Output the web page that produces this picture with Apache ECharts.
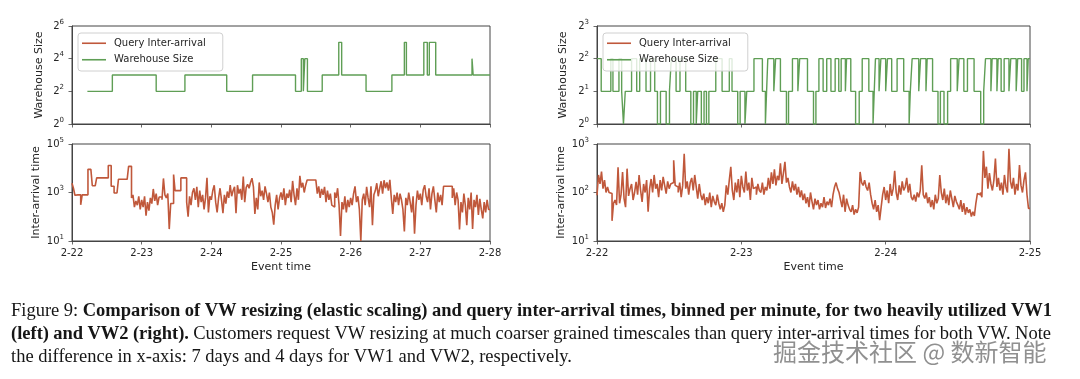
<!DOCTYPE html>
<html><head><meta charset="utf-8">
<script src="https://cdn.jsdelivr.net/npm/echarts@6/dist/echarts.min.js"></script>
<style>html,body{margin:0;padding:0;background:#fff}#c{width:1080px;height:379px}</style>
</head><body><div id="c"></div>
<script>
// ---------- data ----------
const vw1DayLabels = ['2-22','2-23','2-24','2-25','2-26','2-27','2-28'];
const vw2DayLabels = ['2-22','2-23','2-24','2-25'];
const vw1SpanHours = 144;
const vw2SpanHours = 72;
const legendNames = ['Query Inter-arrival', 'Warehouse Size'];

const vw1SizeTicks = [1, 4, 16, 64];
const vw1IatTicks = [10, 1000, 100000];
const vw2SizeTicks = [1, 2, 4, 8];
const vw2IatTicks = [10, 100, 1000];

// warehouse size change points (hours since 2-22 00:00) and new size
const vw1SizeHours = [5.3,13.9,29.0,38.9,53.3,62.2,77.0,79.0,79.7,80.2,81.1,86.2,91.9,92.9,101.3,110.2,114.5,115.2,121.2,122.4,123.1,125.3,137.8,138.2];
const vw1SizeValues = [4,8,4,8,4,8,4,16,4,16,4,8,32,8,4,8,32,8,32,8,32,8,16,8];

const vw2SizeHours = [0,0.7,2.3,2.65,3.65,4.1,4.4,4.7,5.75,6.6,
  7.1,8.15,8.9,9.6,10.05,10.55,11.5,12.05,12.35,13.15,
  13.8,14.75,15.6,16.05,16.5,16.75,17.35,17.8,18.2,18.6,
  19.75,20.8,22.0,22.45,23.4,23.8,24.6,24.9,26.1,27.5,
  28.0,28.2,28.4,29.4,29.7,30.5,31.5,31.85,32.5,33.4,
  33.7,35.0,36.0,36.4,36.9,37.6,38.2,38.9,39.6,40.2,
  40.6,41.3,41.5,42.2,43.0,43.6,44.1,45.2,45.9,46.1,
  46.3,46.9,47.2,48.0,48.3,49.0,49.9,51.0,51.9,52.1,
  52.4,53.5,53.8,54.7,54.9,55.8,56.7,57.1,57.7,58.3,
  58.8,59.9,60.2,61.0,61.6,62.7,63.8,64.3,64.6,65.5,
  65.7,66.5,66.7,67.2,67.7,68.5,68.8,69.7,69.95,70.6,
  71.0,71.5,71.7];
const vw2SizeValues = [4,2,4,2,4,2,1,2,4,2,
  4,2,4,2,1,2,1,2,4,2,
  4,2,1,2,1,2,1,2,1,2,
  4,2,4,2,1,2,1,2,4,2,
  1,2,4,2,4,2,1,2,4,2,
  4,2,1,2,4,2,4,2,4,2,
  4,2,4,2,1,2,4,2,1,2,
  4,2,4,2,4,2,4,2,1,2,
  4,2,4,2,4,2,1,2,1,2,
  4,2,4,2,4,2,1,2,4,2,
  4,2,4,2,4,2,4,2,4,2,
  4,2,4];

// query inter-arrival time per bin (VW1: 6 days, VW2: 3 days, equal-width bins)
const vw1InterArrival = [
  2400,1500,770,800,800,800,310,800,800,800,800,9000,9000,9000,1900,1900,1900,4000,4000,4000,4000,4000,4000,4000,4000,13000,13000,1800,1800,950,950,950,3500,3500,3500,3500,3500,3500,3500,12000,12000,600,800,250,450,300,700,200,
  500,250,700,110,400,180,600,350,1400,450,900,300,650,650,500,3800,800,600,900,31,350,350,5500,1200,1200,1300,1200,4000,4000,4000,4000,400,100,700,300,1000,1500,500,1700,250,1200,400,800,200,600,4000,150,700,
  500,1200,2000,400,150,600,1500,500,140,800,350,1100,600,2000,700,1200,1700,140,2000,900,1400,500,4500,400,1600,2200,1500,2600,3900,1700,130,600,200,2600,700,1200,500,1800,900,400,1000,250,150,47,300,800,200,600,
  1000,500,1500,300,900,600,1300,400,3000,800,300,1500,500,4900,1600,2500,1000,2000,3300,3300,3300,3300,3300,3300,3300,900,1800,600,1400,800,1700,400,1200,500,900,300,250,1000,600,1500,300,16,400,200,700,150,500,250,
  600,300,900,1800,400,700,200,10,500,900,300,1700,600,250,1800,45,800,1200,2400,700,1500,2900,900,3200,1500,2600,1200,3300,600,130,800,400,1000,300,900,500,200,25,600,300,1000,400,150,700,20,300,1200,500,
  900,300,1300,2000,700,400,1500,200,900,1800,500,150,1000,400,800,300,1800,1800,1800,1800,1800,1800,600,1500,300,1000,500,30,400,150,900,300,45,600,200,1000,31,500,250,800,120,550,200,85,400,150,500,200
];
const vw2InterArrival = [
  88,230,150,270,120,180,100,130,100,95,26,60,70,55,330,60,90,265,75,50,310,85,
  120,150,70,100,165,90,230,110,64,150,100,180,40,120,
  190,100,230,120,150,80,180,110,210,140,95,170,120,150,160,460,140,130,100,160,80,140,630,
  120,170,90,160,200,110,230,130,75,150,90,70,95,55,80,60,100,50,85,65,55,90,60,45,60,40,55,
  140,90,180,340,110,70,160,100,190,80,220,130,100,270,110,160,70,200,120,
  130,90,150,110,100,160,90,130,110,200,120,260,150,300,140,220,180,400,150,250,430,160,200,
  130,100,170,110,150,90,130,80,110,70,95,60,80,50,100,65,45,75,
  55,70,45,60,50,80,48,65,55,75,50,90,130,160,120,100,70,50,90,40,75,55,45,
  40,55,35,45,38,50,265,160,140,180,130,110,160,90,60,45,70,40,55,27,50,
  90,130,70,110,60,150,85,120,280,100,70,140,90,170,110,130,200,100,150,80,
  70,90,65,100,80,110,365,90,75,100,60,80,50,70,45,90,60,75,230,
  100,70,120,60,90,55,110,75,50,85,65,55,45,70,40,60,35,50,38,45,32,40,33,60,
  95,90,100,80,720,200,340,120,250,150,110,180,500,130,
  200,110,160,90,230,130,100,800,170,120,200,90,150,110,370,140,100,180,260,90,47
];

// caption text: [text, bold]
const captionLine1 = [['Figure 9:', false], ['Comparison of VW resizing (elastic scaling) and query inter-arrival times, binned per minute, for two heavily utilized VW1', true]];
const captionLine2 = [['(left) and VW2 (right).', true], ['Customers request VW resizing at much coarser grained timescales than query inter-arrival times for both VW. Note', false]];
const captionLine3 = [['the difference in x-axis: 7 days and 4 days for VW1 and VW2, respectively.', false]];
const watermarkText = '掘金技术社区 @ 数新智能';

// ---------- helpers ----------
const GREEN = '#5f9e55', RED = '#c0583b', FRAME = '#444', TXT = '#262626';
const FONT = '"DejaVu Sans", sans-serif';

function stepData(hours, values, span) {
  const d = hours.map((h, i) => [h, values[i]]);
  d.push([span, values[values.length - 1]]);
  return d;
}
function binData(values, span) {
  const w = span / values.length;
  const d = values.map((v, i) => [i * w, v]);
  d.push([span, values[values.length - 1]]);
  return d;
}
function supLabel(base) {
  return v => '{b|' + base + '}{s|' + Math.round(Math.log(v) / Math.log(base)) + '}';
}
const richSup = {
  b: { fontSize: 10, lineHeight: 15, fontFamily: FONT, color: TXT },
  s: { fontSize: 7, fontFamily: FONT, color: TXT, verticalAlign: 'top' }
};
function xAx(gi, span, labels, showLabels) {
  return {
    type: 'value', gridIndex: gi, min: 0, max: span, interval: 24,
    axisLine: { show: true, onZero: false, lineStyle: { color: FRAME, width: 1 } },
    axisTick: { show: true, inside: false, length: 3.5, lineStyle: { color: FRAME, width: 0.8 } },
    splitLine: { show: false },
    axisLabel: { show: showLabels, margin: 7, fontSize: 10, fontFamily: FONT, color: TXT,
      formatter: v => labels[Math.round(v / 24)] },
    name: showLabels ? 'Event time' : '', nameLocation: 'middle', nameGap: 21,
    nameTextStyle: { fontSize: 11, fontFamily: FONT, color: TXT }
  };
}
function yAx(gi, base, ticks, name, gap) {
  return {
    type: 'log', logBase: base, gridIndex: gi, min: ticks[0], max: ticks[ticks.length - 1],
    axisLine: { show: true, lineStyle: { color: FRAME, width: 1 } },
    axisTick: { show: true, inside: false, length: 3.5, customValues: ticks, lineStyle: { color: FRAME, width: 0.8 } },
    minorTick: { show: false },
    axisLabel: { customValues: ticks, margin: 8, formatter: supLabel(base), rich: richSup },
    splitLine: { show: false },
    name: name, nameLocation: 'middle', nameGap: gap,
    nameTextStyle: { fontSize: 11, fontFamily: FONT, color: TXT }
  };
}
function legendAt(left) {
  return {
    data: legendNames, orient: 'vertical', left: left, top: 33,
    icon: 'rect', itemWidth: 24, itemHeight: 1.6, itemGap: 3,
    padding: [3.5, 17, 4.5, 4],
    backgroundColor: 'rgba(255,255,255,0.8)', borderColor: '#d0d0d0', borderWidth: 1, borderRadius: 3,
    textStyle: { fontSize: 10, fontFamily: FONT, color: TXT, lineHeight: 13.5, padding: [0, 0, 0, 3] },
    selectedMode: false, z: 10
  };
}
function lineSeries(name, xi, yi, color, width, data) {
  return {
    type: 'line', name: name, xAxisIndex: xi, yAxisIndex: yi, step: 'end',
    showSymbol: false, symbol: 'none', data: data, animation: false,
    lineStyle: { color: color, width: width }, itemStyle: { color: color },
    emphasis: { disabled: true }
  };
}

// caption layout (justified like the paper)
const capSize = 18.5;
const mctx = document.createElement('canvas').getContext('2d');
function capFont(bold) { return (bold ? 'bold ' : '') + capSize + 'px "Liberation Serif"'; }
function layoutLine(segs, x0, x1, y, justify) {
  const words = [];
  segs.forEach(([t, b]) => t.split(' ').filter(Boolean).forEach(w => words.push([w, b])));
  mctx.font = capFont(false);
  const sp = mctx.measureText(' ').width;
  const widths = words.map(([w, b]) => { mctx.font = capFont(b); return mctx.measureText(w).width; });
  const total = widths.reduce((a, c) => a + c, 0);
  const gap = justify ? (x1 - x0 - total) / (words.length - 1) : sp;
  let x = x0;
  return words.map(([w, b], i) => {
    const el = { type: 'text', x: x, y: y, silent: true, z: 50,
      style: { text: w, fontSize: capSize, fontWeight: b ? 'bold' : 'normal',
        fontFamily: '"Liberation Serif", serif', fill: '#161616', verticalAlign: 'middle' } };
    x += widths[i] + gap;
    return el;
  });
}

const graphics = [].concat(
  layoutLine(captionLine1, 11, 1052, 311, true),
  layoutLine(captionLine2, 11, 1051, 334, true),
  layoutLine(captionLine3, 11, 1052, 357.5, false),
  [{ type: 'text', x: 773, y: 352, silent: true, z: 100,
     style: { text: watermarkText, fontSize: 24, fontFamily: '"Noto Sans CJK SC", sans-serif',
       fill: '#909090', stroke: '#ffffff', lineWidth: 2, verticalAlign: 'middle' } }]
);

const gridBase = { show: true, borderColor: FRAME, borderWidth: 1, backgroundColor: 'transparent', containLabel: false };
const option = {
  animation: false,
  backgroundColor: '#ffffff',
  grid: [
    Object.assign({ left: 72, top: 26, width: 418, height: 98 }, gridBase),
    Object.assign({ left: 72, top: 144, width: 418, height: 97 }, gridBase),
    Object.assign({ left: 597, top: 26, width: 433, height: 98 }, gridBase),
    Object.assign({ left: 597, top: 144, width: 433, height: 97 }, gridBase)
  ],
  xAxis: [
    xAx(0, vw1SpanHours, vw1DayLabels, false),
    xAx(1, vw1SpanHours, vw1DayLabels, true),
    xAx(2, vw2SpanHours, vw2DayLabels, false),
    xAx(3, vw2SpanHours, vw2DayLabels, true)
  ],
  yAxis: [
    yAx(0, 2, vw1SizeTicks, 'Warehouse Size', 27),
    yAx(1, 10, vw1IatTicks, 'Inter-arrival time', 30),
    yAx(2, 2, vw2SizeTicks, 'Warehouse Size', 28),
    yAx(3, 10, vw2IatTicks, 'Inter-arrival time', 30)
  ],
  legend: [legendAt(78), legendAt(603)],
  series: [
    lineSeries('Warehouse Size', 0, 0, GREEN, 1.4, stepData(vw1SizeHours, vw1SizeValues, vw1SpanHours)),
    lineSeries('Query Inter-arrival', 1, 1, RED, 1.6, binData(vw1InterArrival, vw1SpanHours)),
    lineSeries('Warehouse Size', 2, 2, GREEN, 1.4, stepData(vw2SizeHours, vw2SizeValues, vw2SpanHours)),
    lineSeries('Query Inter-arrival', 3, 3, RED, 1.6, binData(vw2InterArrival, vw2SpanHours))
  ],
  graphic: graphics
};
const chart = echarts.init(document.getElementById('c'), null, { renderer: 'canvas' });
chart.setOption(option);
</script>
</body></html>
